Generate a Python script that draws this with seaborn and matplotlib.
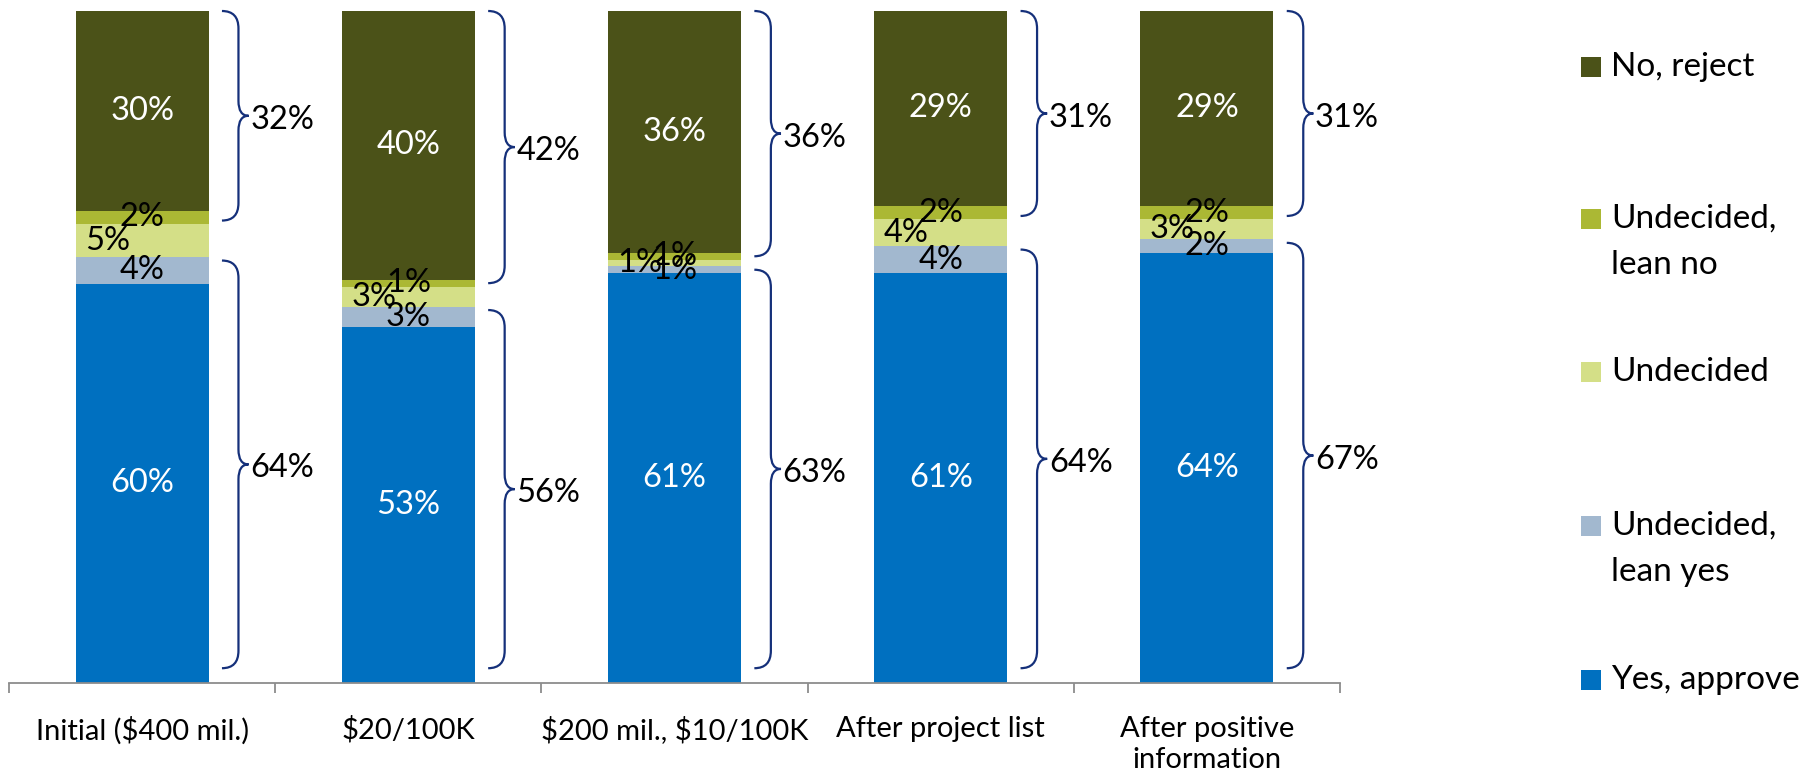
import numpy as np
import pandas as pd
import matplotlib
matplotlib.use("Agg")
import matplotlib.pyplot as plt
import seaborn as sns
from matplotlib.path import Path
from matplotlib.patches import PathPatch, Rectangle

# ---------------- data ----------------
categories = ["Initial ($400 mil.)", "$20/100K", "$200 mil., $10/100K",
              "After project list", "After positive\ninformation"]
yes_approve = [60, 53, 61, 61, 64]
lean_yes = [4, 3, 1, 4, 2]
undecided = [5, 3, 1, 4, 3]
lean_no = [2, 1, 1, 2, 2]
no_reject = [30, 40, 36, 29, 29]
approve_total = [64, 56, 63, 64, 67]
reject_total = [32, 42, 36, 31, 31]
series_names = ["Yes, approve", "Undecided, lean yes", "Undecided",
                "Undecided, lean no", "No, reject"]
colors = ["#0070C0", "#A2B8CF", "#D4DF87", "#ABB834", "#4B5218"]

# ---------------- style ----------------
sns.set_theme(style="white")
plt.rcParams['font.family'] = ['Lato', 'DejaVu Sans']
plt.rcParams['text.parse_math'] = False

W, H = 1813, 781
fig = plt.figure(figsize=(W / 100, H / 100), dpi=100)
ax = fig.add_axes([9 / W, (H - 683) / H, (1340 - 9) / W, (683 - 11) / H])

df = pd.DataFrame({
    "Yes, approve": yes_approve,
    "Undecided, lean yes": lean_yes,
    "Undecided": undecided,
    "Undecided, lean no": lean_no,
    "No, reject": no_reject,
}, index=categories)
share = df.div(df.sum(axis=1), axis=0) * 100
cum = share.cumsum(axis=1)

# stacked bars: overlay cumulative totals, tallest first
for name, color in reversed(list(zip(series_names, colors))):
    sns.barplot(x=categories, y=cum[name].values, color=color, width=0.5,
                saturation=1, errorbar=None, linewidth=0, ax=ax)

ax.set_xlim(-0.5, len(categories) - 0.5)
ax.set_ylim(0, 100)
ax.set_yticks([])
ax.set_ylabel("")
for s in ["left", "right", "top"]:
    ax.spines[s].set_visible(False)
ax.spines["bottom"].set_color("#8C8C8C")
ax.spines["bottom"].set_linewidth(1.3)
ax.set_xticks(np.arange(-0.5, len(categories), 1.0), minor=True)
ax.tick_params(axis="x", which="minor", bottom=True, length=7, width=1.3,
               color="#8C8C8C")
ax.tick_params(axis="x", which="major", length=0, pad=24, labelsize=21,
               labelcolor="black")
for lbl in ax.get_xticklabels():
    lbl.set_linespacing(1.2)

# ---------------- segment labels ----------------
fs = 23.5
for i, cat in enumerate(categories):
    bottoms = [0] + list(cum.loc[cat].values[:-1])
    vals = df.loc[cat].values
    shares = share.loc[cat].values
    for k, (b, s, v) in enumerate(zip(bottoms, shares, vals)):
        color = "white" if k in (0, 4) else "black"
        x = i - 0.13 if k == 2 else i
        ax.text(x, b + s / 2, f"{v}%", ha="center", va="center",
                color=color, fontsize=fs)

# ---------------- braces ----------------
def brace(ax, c, ylo, yhi, label):
    x0, x1, x2 = c + 0.30, c + 0.362, c + 0.40
    ry, rt = 2.6, 2.2
    ym = (ylo + yhi) / 2
    verts = [(x0, yhi), (x1, yhi), (x1, yhi - ry),
             (x1, ym + rt), (x1, ym), (x2, ym),
             (x1, ym), (x1, ym - rt),
             (x1, ylo + ry), (x1, ylo), (x0, ylo)]
    codes = [Path.MOVETO, Path.CURVE3, Path.CURVE3,
             Path.LINETO, Path.CURVE3, Path.CURVE3,
             Path.CURVE3, Path.CURVE3,
             Path.LINETO, Path.CURVE3, Path.CURVE3]
    ax.add_patch(PathPatch(Path(verts, codes), fill=False, edgecolor="#15307A",
                           linewidth=1.6, clip_on=False))
    ax.text(x2 + 0.006, ym - 0.6, label, ha="left", va="center", fontsize=fs,
            color="black", clip_on=False)

for i, cat in enumerate(categories):
    c2 = cum.loc[cat, "Undecided, lean yes"]
    c3 = cum.loc[cat, "Undecided"]
    brace(ax, i, 2.2, c2 - 0.5, f"{approve_total[i]}%")
    brace(ax, i, c3 + 0.5, 100, f"{reject_total[i]}%")

# ---------------- legend (top to bottom) ----------------
legend_rows = [("No, reject", colors[4], 67),
               ("Undecided,\nlean no", colors[3], 219),
               ("Undecided", colors[2], 372),
               ("Undecided,\nlean yes", colors[1], 526),
               ("Yes, approve", colors[0], 680)]
for text, color, yc in legend_rows:
    fig.add_artist(Rectangle((1581 / W, (H - yc - 10) / H), 20 / W, 20 / H,
                             transform=fig.transFigure, facecolor=color,
                             edgecolor="none"))
    for j, line in enumerate(text.split("\n")):
        fig.text(1611 / W, (H - yc - j * 46) / H, line, ha="left",
                 va="center", fontsize=24, color="black")

fig.savefig("out.png", dpi=100)
